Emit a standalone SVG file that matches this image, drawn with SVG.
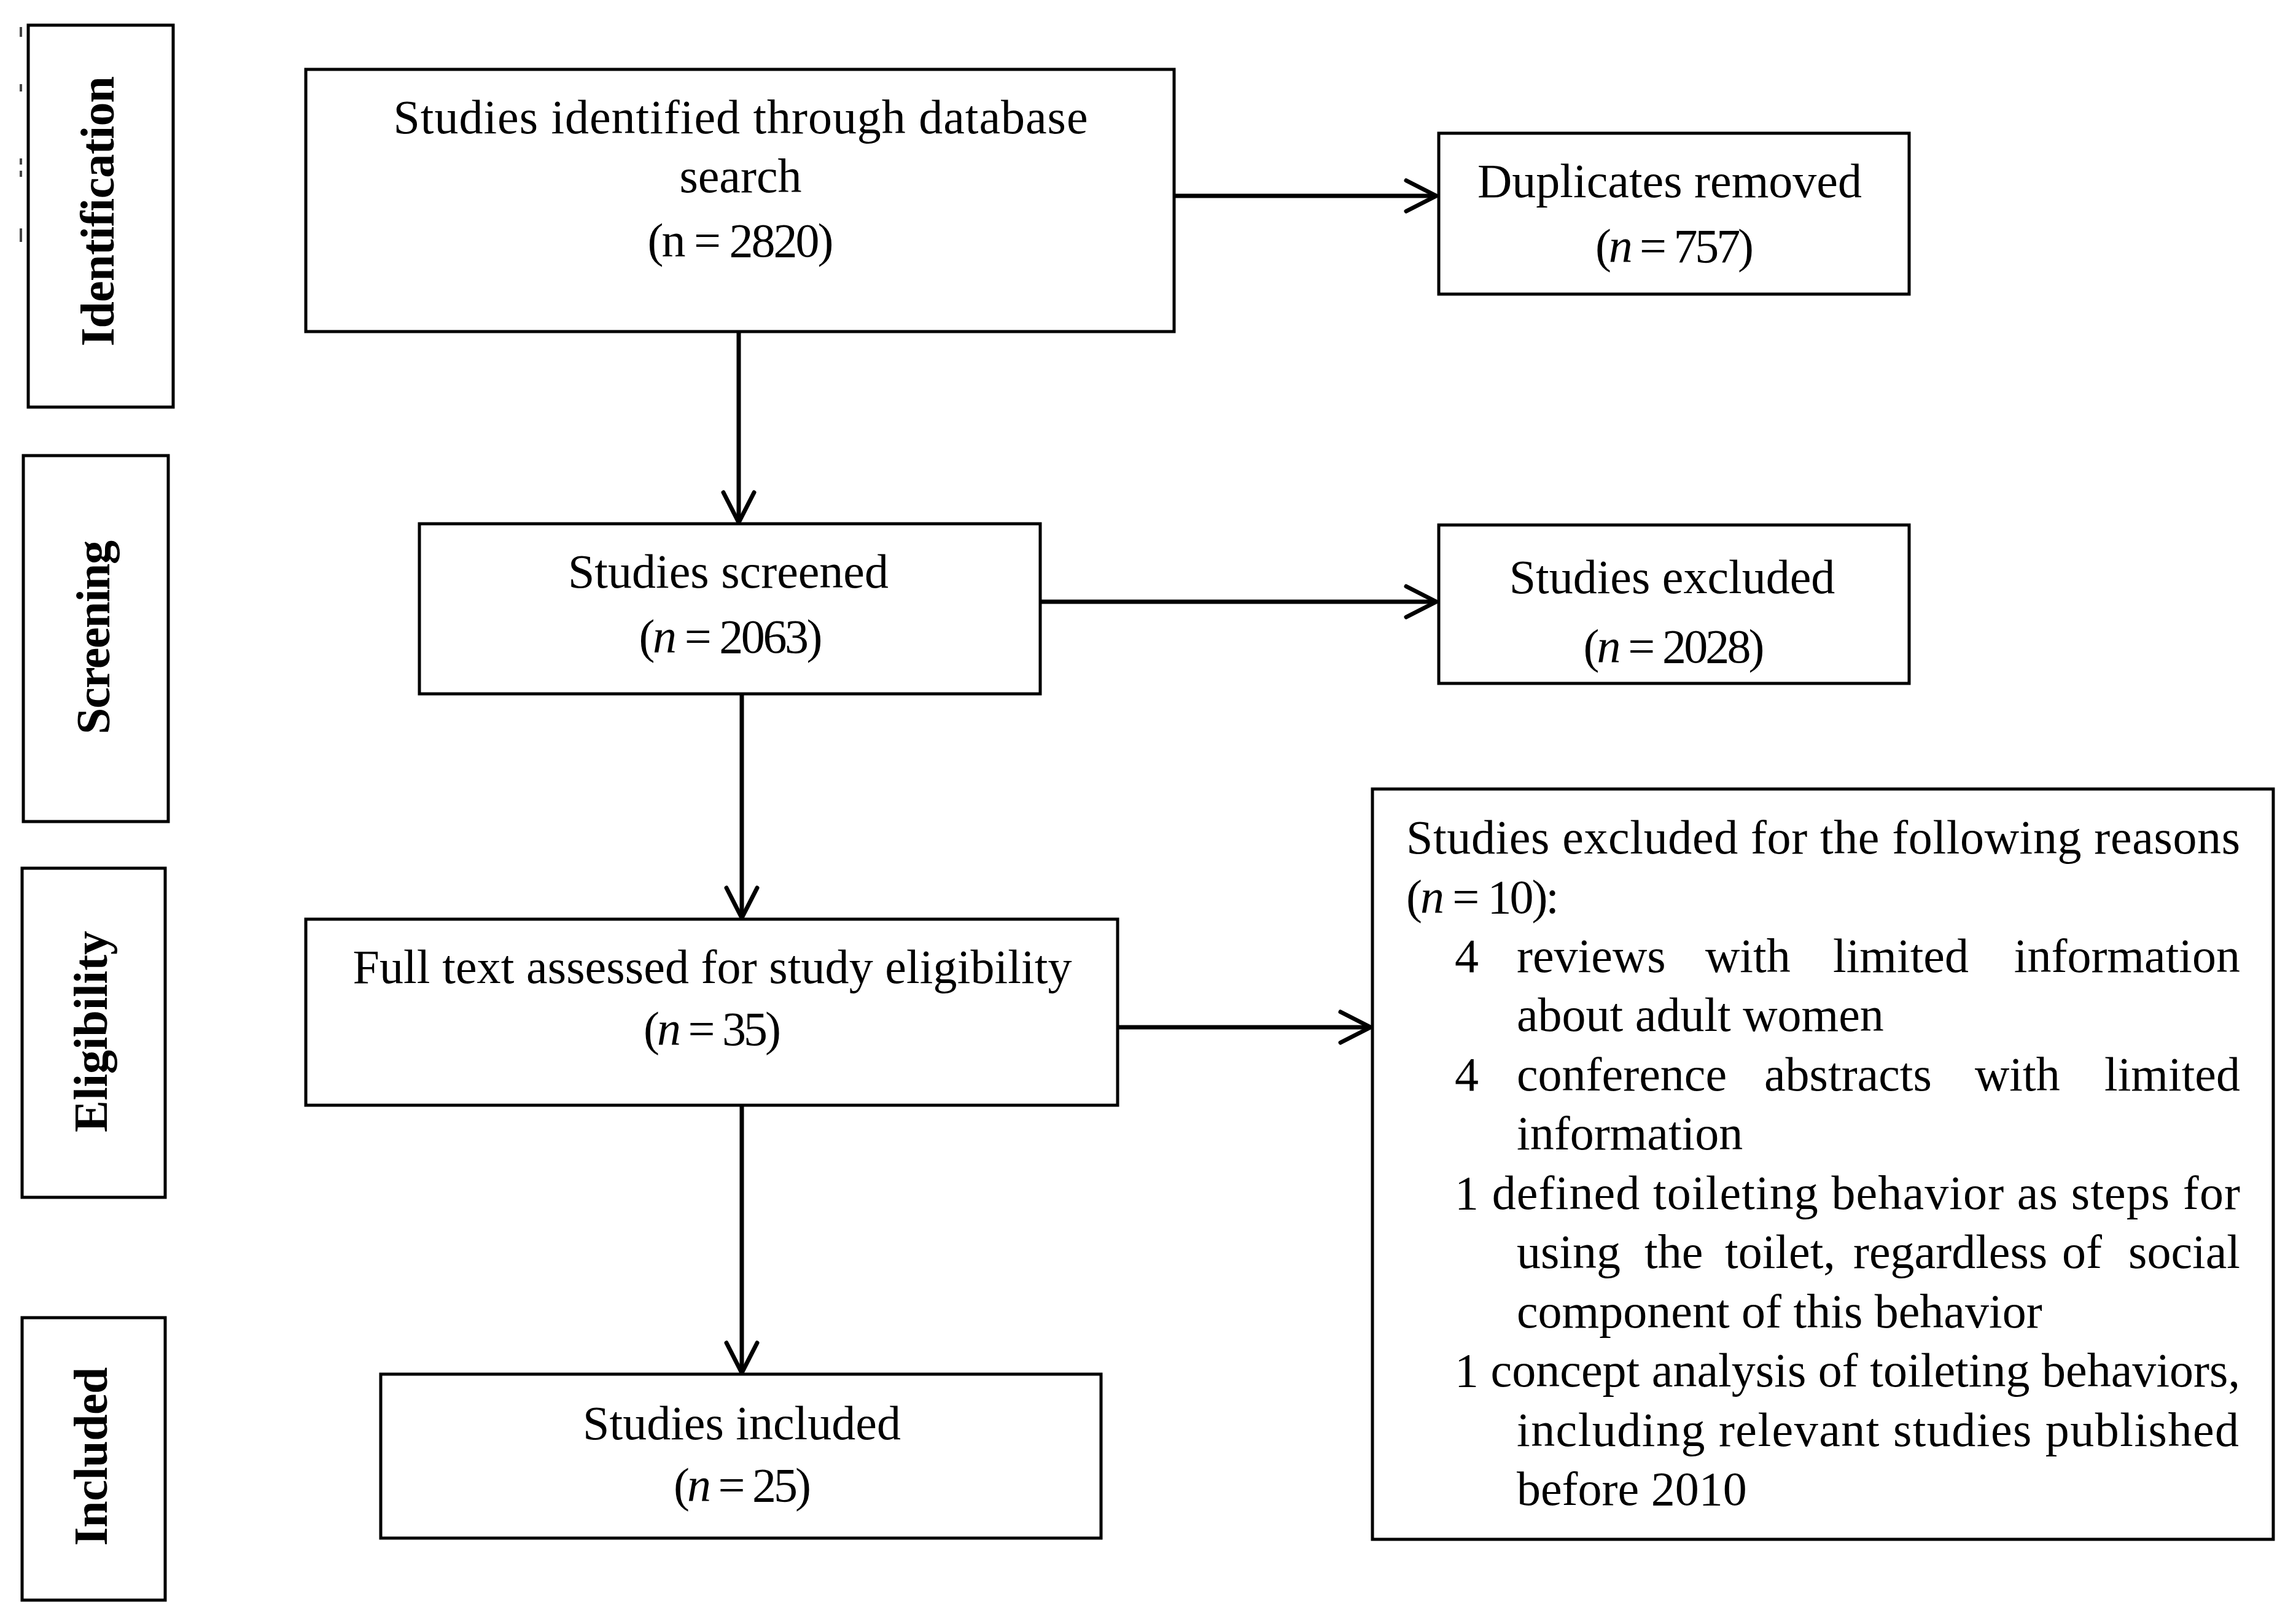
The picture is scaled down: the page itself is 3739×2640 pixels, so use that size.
<svg xmlns="http://www.w3.org/2000/svg" width="3739" height="2640" viewBox="0 0 3739 2640">
<style>
.box{fill:#fff;stroke:#000;stroke-width:5}
.t{font-family:"Liberation Serif","Times New Roman",serif;font-size:78px;fill:#000}
.c{text-anchor:middle}
.e{text-anchor:end}
.lab{font-family:"Liberation Serif","Times New Roman",serif;font-size:78px;font-weight:bold;fill:#000;text-anchor:middle}
.i{font-style:italic}
.conn{stroke:#000;stroke-width:7;fill:none}
</style>
<defs>
<marker id="arr" markerUnits="userSpaceOnUse" markerWidth="64" markerHeight="64" viewBox="0 0 64 64" refX="57" refY="32" orient="auto">
<path d="M8,7 L57,32 L8,57" fill="none" stroke="#000" stroke-width="7" stroke-linecap="round" stroke-linejoin="round"/>
</marker>
</defs>
<rect width="3739" height="2640" fill="#fff"/>
<g id="artifacts" fill="#444">
<rect x="32" y="44" width="4" height="16"/>
<rect x="32" y="137" width="4" height="12"/>
<rect x="32" y="258" width="4" height="10"/>
<rect x="32" y="278" width="4" height="10"/>
<rect x="32" y="372" width="4" height="22"/>
</g>
<g id="lab-identification">
<rect class="box" x="46" y="41" width="236" height="622"/>
<text class="lab" transform="translate(185,344) rotate(-90)" textLength="440" lengthAdjust="spacing">Identification</text>
</g>
<g id="lab-screening">
<rect class="box" x="38" y="742" width="236" height="596"/>
<text class="lab" transform="translate(178,1038) rotate(-90)" textLength="316" lengthAdjust="spacing">Screening</text>
</g>
<g id="lab-eligibility">
<rect class="box" x="36" y="1414" width="233" height="536"/>
<text class="lab" transform="translate(174,1680) rotate(-90)" textLength="328" lengthAdjust="spacing">Eligibility</text>
</g>
<g id="lab-included">
<rect class="box" x="36" y="2146" width="233" height="460"/>
<text class="lab" transform="translate(174,2372) rotate(-90)" textLength="291" lengthAdjust="spacing">Included</text>
</g>
<g id="connectors">
<line class="conn" x1="1203" y1="540" x2="1203" y2="851" marker-end="url(#arr)"/>
<line class="conn" x1="1912" y1="319" x2="2339" y2="319" marker-end="url(#arr)"/>
<line class="conn" x1="1208" y1="1130" x2="1208" y2="1495" marker-end="url(#arr)"/>
<line class="conn" x1="1694" y1="980" x2="2339" y2="980" marker-end="url(#arr)"/>
<line class="conn" x1="1820" y1="1673" x2="2232" y2="1673" marker-end="url(#arr)"/>
<line class="conn" x1="1208" y1="1800" x2="1208" y2="2236" marker-end="url(#arr)"/>
</g>
<g id="identified">
<rect class="box" x="498" y="113" width="1414" height="427"/>
<text class="t c" x="1206" y="217" textLength="1131" lengthAdjust="spacing">Studies identified through database</text>
<text class="t c" x="1206" y="313">search</text>
<text class="t c" x="1206" y="418" textLength="303" lengthAdjust="spacing">(n = 2820)</text>
</g>
<g id="duplicates">
<rect class="box" x="2343" y="217" width="766" height="262"/>
<text class="t c" x="2719" y="321">Duplicates removed</text>
<text class="t c" x="2727" y="427" textLength="258" lengthAdjust="spacing">(<tspan class="i">n</tspan> = 757)</text>
</g>
<g id="screened">
<rect class="box" x="683" y="853" width="1011" height="277"/>
<text class="t c" x="1186" y="957">Studies screened</text>
<text class="t c" x="1190" y="1063" textLength="299" lengthAdjust="spacing">(<tspan class="i">n</tspan> = 2063)</text>
</g>
<g id="excluded">
<rect class="box" x="2343" y="855" width="766" height="258"/>
<text class="t c" x="2723" y="966">Studies excluded</text>
<text class="t c" x="2726" y="1079" textLength="295" lengthAdjust="spacing">(<tspan class="i">n</tspan> = 2028)</text>
</g>
<g id="fulltext">
<rect class="box" x="498" y="1497" width="1322" height="303"/>
<text class="t c" x="1160" y="1601" textLength="1171" lengthAdjust="spacing">Full text assessed for study eligibility</text>
<text class="t c" x="1160" y="1702" textLength="224" lengthAdjust="spacing">(<tspan class="i">n</tspan> = 35)</text>
</g>
<g id="included">
<rect class="box" x="620" y="2238" width="1173" height="267"/>
<text class="t c" x="1208" y="2344">Studies included</text>
<text class="t c" x="1209" y="2445" textLength="224" lengthAdjust="spacing">(<tspan class="i">n</tspan> = 25)</text>
</g>
<g id="reasons">
<rect class="box" x="2235" y="1285" width="1467" height="1222"/>
<text class="t" x="2290" y="1390" textLength="1358" lengthAdjust="spacing">Studies excluded for the following reasons</text>
<text class="t" x="2290" y="1487" textLength="249" lengthAdjust="spacing">(<tspan class="i">n</tspan> = 10):</text>
<text class="t" y="1583"><tspan x="2369">4</tspan><tspan x="2470">reviews</tspan><tspan x="2777">with</tspan><tspan x="2985">limited</tspan></text>
<text class="t e" x="3648" y="1583">information</text>
<text class="t" x="2470" y="1679">about adult women</text>
<text class="t" y="1776"><tspan x="2369">4</tspan><tspan x="2470">conference</tspan><tspan x="2873">abstracts</tspan><tspan x="3216">with</tspan></text>
<text class="t e" x="3648" y="1776">limited</text>
<text class="t" x="2470" y="1872">information</text>
<text class="t" x="2369" y="1969" textLength="1279" lengthAdjust="spacing">1 defined toileting behavior as steps for</text>
<text class="t" y="2065"><tspan x="2470">using</tspan><tspan x="2678">the</tspan><tspan x="2809">toilet,</tspan><tspan x="3018">regardless</tspan><tspan x="3358">of</tspan></text>
<text class="t e" x="3648" y="2065">social</text>
<text class="t" x="2470" y="2162">component of this behavior</text>
<text class="t" x="2369" y="2258" textLength="1279" lengthAdjust="spacing">1 concept analysis of toileting behaviors,</text>
<text class="t" x="2470" y="2355" textLength="1176" lengthAdjust="spacing">including relevant studies published</text>
<text class="t" x="2470" y="2451">before 2010</text>
</g>
</svg>
